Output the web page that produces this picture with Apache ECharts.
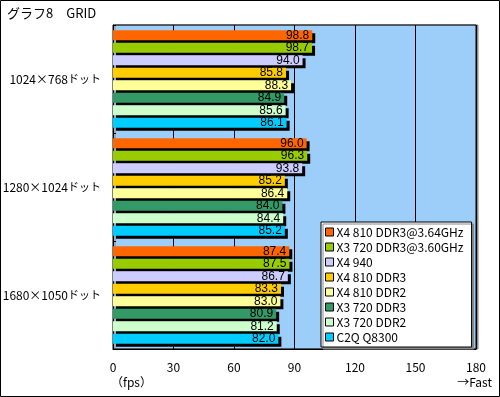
<!DOCTYPE html>
<html>
<head>
<meta charset="utf-8">
<script src="https://cdn.jsdelivr.net/npm/echarts@6/dist/echarts.min.js"></script>
<style>
  html, body { margin: 0; padding: 0; background: #fff; }
  #chart { width: 500px; height: 397px; }
</style>
</head>
<body>
<div id="chart"></div>
<script>
// 解像度（カテゴリ）
const categories = ['1024×768ドット', '1280×1024ドット', '1680×1050ドット']

// 系列名と色
const seriesNames = [
  'X4 810 DDR3@3.64GHz',
  'X3 720 DDR3@3.60GHz',
  'X4 940',
  'X4 810 DDR3',
  'X4 810 DDR2',
  'X3 720 DDR3',
  'X3 720 DDR2',
  'C2Q Q8300'
]
const seriesColors = ['#ff6600', '#99cc00', '#ccccff', '#ffcc00', '#ffff99', '#339966', '#ccffcc', '#00ccff']

// fps 値（カテゴリ順）
const x4_810_oc = [98.8, 96.0, 87.4]
const x3_720_oc = [98.7, 96.3, 87.5]
const x4_940 = [94.0, 93.8, 86.7]
const x4_810_ddr3 = [85.8, 85.2, 83.3]
const x4_810_ddr2 = [88.3, 86.4, 83.0]
const x3_720_ddr3 = [84.9, 84.0, 80.9]
const x3_720_ddr2 = [85.6, 84.4, 81.2]
const c2q_q8300 = [86.1, 85.2, 82.0]
const seriesValues = [x4_810_oc, x3_720_oc, x4_940, x4_810_ddr3, x4_810_ddr2, x3_720_ddr3, x3_720_ddr2, c2q_q8300]

// 軸目盛
const axisMin = 0
const axisMax = 180
const axisInterval = 30

const font = '"Noto Sans CJK JP", "Liberation Sans", sans-serif'

const chart = echarts.init(document.getElementById('chart'), null, { renderer: 'canvas' })

const option = {
  animation: false,
  backgroundColor: '#fff',
  grid: {
    left: 113,
    top: 25,
    right: 24,
    bottom: 48,
    outerBoundsMode: 'none',
    containLabel: false,
    show: true,
    backgroundColor: '#9dcdf9',
    borderColor: '#000',
    borderWidth: 1,
    shadowColor: '#888',
    shadowOffsetX: 2,
    shadowOffsetY: 0
  },
  legend: {
    orient: 'vertical',
    left: 321,
    top: 222,
    width: 154,
    backgroundColor: '#fff',
    borderColor: '#000',
    borderWidth: 1,
    borderRadius: 0,
    padding: [4, 8, 4, 4],
    itemWidth: 8,
    itemHeight: 8,
    itemGap: 3,
    icon: 'rect',
    shadowColor: '#888',
    shadowOffsetX: 2,
    shadowOffsetY: 2,
    itemStyle: { borderColor: '#000', borderWidth: 1, shadowColor: 'transparent' },
    textStyle: { fontFamily: font, fontSize: 12, lineHeight: 12, color: '#000', padding: [0, 0, 0, -2] },
    data: seriesNames
  },
  xAxis: {
    type: 'value',
    min: axisMin,
    max: axisMax,
    interval: axisInterval,
    axisLine: { show: true, lineStyle: { color: '#000' } },
    axisTick: { show: true, inside: true, length: 3, lineStyle: { color: '#000' } },
    splitLine: { show: true, lineStyle: { color: '#000', width: 1 } },
    axisLabel: { fontFamily: font, fontSize: 12, color: '#000', margin: 12 }
  },
  yAxis: {
    type: 'category',
    inverse: true,
    data: categories,
    axisLine: { show: true, lineStyle: { color: '#000' } },
    axisTick: { show: true, inside: true, length: 3, lineStyle: { color: '#000' } },
    axisLabel: {
      fontFamily: font,
      fontSize: 12,
      color: '#000',
      margin: 12,
      // 「ドット」部分を少し詰めて表示
      formatter: v => {
        const idx = v.indexOf('ドット')
        return idx < 0 ? v : '{n|' + v.slice(0, idx) + '}{d|ドット}'
      },
      rich: {
        n: { fontFamily: font, fontSize: 12, color: '#000', lineHeight: 14 },
        d: { fontFamily: font, fontSize: 11, color: '#000', lineHeight: 14 }
      }
    }
  },
  graphic: [
    {
      type: 'rect',
      silent: true,
      shape: { x: 0.5, y: 0.5, width: 499, height: 396 },
      style: { fill: 'none', stroke: '#000', lineWidth: 1 }
    },
    {
      type: 'text',
      left: 7,
      top: 7,
      style: { text: 'グラフ8　GRID', fontFamily: font, fontSize: 13, fill: '#000' }
    },
    {
      type: 'text',
      left: 111,
      top: 376,
      style: { text: '（fps）', fontFamily: font, fontSize: 12, fill: '#000' }
    },
    {
      type: 'text',
      right: 8,
      top: 376,
      style: { text: '→Fast', fontFamily: font, fontSize: 12, fill: '#000' }
    }
  ],
  series: seriesNames.map((name, i) => ({
    type: 'bar',
    name: name,
    data: seriesValues[i],
    barWidth: 10,
    barGap: '25%',
    itemStyle: {
      color: seriesColors[i],
      shadowColor: '#000',
      shadowOffsetX: 3,
      shadowOffsetY: 3,
      shadowBlur: 0
    },
    label: {
      show: true,
      position: 'insideRight',
      distance: 3,
      fontFamily: '"Liberation Sans", sans-serif',
      fontSize: 12,
      color: '#000',
      textBorderWidth: 0,
      textShadowBlur: 0,
      textShadowColor: 'transparent',
      formatter: p => p.value.toFixed(1)
    }
  }))
}

chart.setOption(option)
window.addEventListener('resize', () => chart.resize())
</script>
</body>
</html>
